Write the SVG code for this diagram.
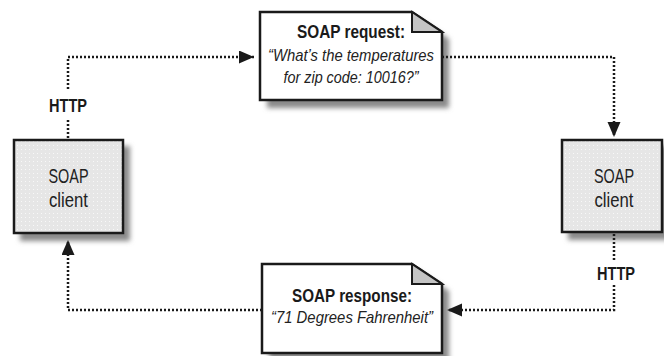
<svg xmlns="http://www.w3.org/2000/svg" width="664" height="356" viewBox="0 0 664 356">
  <defs>
    <style>
      .box { fill: url(#dots); stroke: #1a1a1a; stroke-width: 2.5; }
      .note { fill: #ffffff; stroke: #1a1a1a; stroke-width: 2.5; stroke-linejoin: miter; }
      .fold { fill: #c4c4c4; stroke: #1a1a1a; stroke-width: 2; }
      .shadow { fill: #8a8a8a; filter: url(#blur); }
      .conn { fill: none; stroke: #1a1a1a; stroke-width: 2.5; stroke-dasharray: 2 2; }
      .lbl { font-family: "Liberation Sans", Arial, sans-serif; font-size: 21px; fill: #222; text-anchor: middle; }
      .http { font-family: "Liberation Sans", Arial, sans-serif; font-size: 19px; font-weight: bold; fill: #1a1a1a; text-anchor: middle; }
      .ttl { font-family: "Liberation Sans", Arial, sans-serif; font-size: 18px; font-weight: bold; fill: #1a1a1a; text-anchor: middle; }
      .it { font-family: "Liberation Sans", Arial, sans-serif; font-size: 17px; font-style: italic; fill: #222; text-anchor: middle; }
    </style>
    <pattern id="dots" width="4" height="4" patternUnits="userSpaceOnUse">
      <rect width="4" height="4" fill="#e6e6e6"/>
      <rect x="1" y="1" width="1" height="1" fill="#f8f8f8"/>
    </pattern>
    <filter id="blur" x="-20%" y="-20%" width="140%" height="140%">
      <feGaussianBlur stdDeviation="2.5"/>
    </filter>
    <marker id="arrow" markerUnits="userSpaceOnUse" markerWidth="16" markerHeight="14" refX="15" refY="6.5" orient="auto">
      <path d="M0,0 L15,6.5 L0,13 Z" fill="#1a1a1a"/>
    </marker>
  </defs>

  <g id="client-left">
    <rect class="shadow" x="20" y="146" width="110" height="95"/>
    <rect class="box" x="14" y="140" width="109" height="93"/>
    <text class="lbl" x="68.5" y="183" textLength="40" lengthAdjust="spacingAndGlyphs">SOAP</text>
    <text class="lbl" x="68.5" y="207" textLength="39" lengthAdjust="spacingAndGlyphs">client</text>
  </g>

  <g id="client-right">
    <rect class="shadow" x="568" y="146" width="110" height="94"/>
    <rect class="box" x="562" y="140" width="100" height="92"/>
    <text class="lbl" x="614" y="183" textLength="40" lengthAdjust="spacingAndGlyphs">SOAP</text>
    <text class="lbl" x="614" y="207" textLength="39" lengthAdjust="spacingAndGlyphs">client</text>
  </g>

  <g id="soap-request">
    <path class="shadow" d="M267,19 H419 L449,39 V108 H267 Z"/>
    <path class="note" d="M260,12 H412 L442,32 V100 H260 Z"/>
    <path class="fold" d="M412,12 V32 H442 Z"/>
    <text class="ttl" x="351" y="38" textLength="108" lengthAdjust="spacingAndGlyphs">SOAP request:</text>
    <text class="it" x="351" y="61" textLength="166" lengthAdjust="spacingAndGlyphs">“What’s the temperatures</text>
    <text class="it" x="351" y="83" textLength="135" lengthAdjust="spacingAndGlyphs">for zip code: 10016?”</text>
  </g>

  <g id="soap-response">
    <path class="shadow" d="M269,271 H419 L449,291 V362 H269 Z"/>
    <path class="note" d="M262,264 H412 L442,284 V353 H262 Z"/>
    <path class="fold" d="M412,264 V284 H442 Z"/>
    <text class="ttl" x="352" y="302" textLength="120" lengthAdjust="spacingAndGlyphs">SOAP response:</text>
    <text class="it" x="352" y="323" textLength="162" lengthAdjust="spacingAndGlyphs">“71 Degrees Fahrenheit”</text>
  </g>

  <g id="connectors">
    <path class="conn" d="M68,138 V118"/>
    <path class="conn" d="M68,89 V57 H254" marker-end="url(#arrow)"/>
    <text class="http" x="68" y="112" textLength="38" lengthAdjust="spacingAndGlyphs">HTTP</text>
    <path class="conn" d="M442,57 H614 V137" marker-end="url(#arrow)"/>
    <path class="conn" d="M614,234 V262"/>
    <text class="http" x="616" y="280" textLength="38" lengthAdjust="spacingAndGlyphs">HTTP</text>
    <path class="conn" d="M614,285 V310 H447" marker-end="url(#arrow)"/>
    <path class="conn" d="M262,310 H68 V240" marker-end="url(#arrow)"/>
  </g>
</svg>
